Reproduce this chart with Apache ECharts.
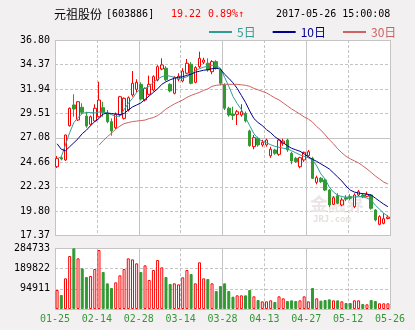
<!DOCTYPE html>
<html>
<head>
<meta charset="utf-8">
<script src="https://cdn.jsdelivr.net/npm/echarts@6.0.0/dist/echarts.min.js"></script>
<style>
html,body{margin:0;padding:0;background:#f2f0f1;}
#wrap{position:relative;width:415px;height:330px;background:#f2f0f1;}
#chart{position:absolute;left:0;top:0;width:415px;height:330px;z-index:1;}
.panel{position:absolute;background:#ffffff;z-index:0;}
</style>
</head>
<body>
<div id="wrap"><div id="chart"></div></div>
<script>
// Daily K-line of 元祖股份 (603886), 2017-01-25 .. 2017-05-26
const dates = [
  '01-25','01-26',
  '02-03','02-06','02-07','02-08','02-09','02-10','02-13','02-14','02-15','02-16','02-17',
  '02-20','02-21','02-22','02-23','02-24','02-27','02-28',
  '03-01','03-02','03-03','03-06','03-07','03-08','03-09','03-10','03-13','03-14','03-15',
  '03-16','03-17','03-20','03-21','03-22','03-23','03-24','03-27','03-28','03-29','03-30','03-31',
  '04-05','04-06','04-07','04-10','04-11','04-12','04-13','04-14','04-17','04-18','04-19',
  '04-20','04-21','04-24','04-25','04-26','04-27','04-28',
  '05-02','05-03','05-04','05-05','05-08','05-09','05-10','05-11','05-12','05-15','05-16',
  '05-17','05-18','05-19','05-22','05-23','05-24','05-25','05-26'
];

const opens = [
  24.22, 25.10, 24.89, 28.29, 30.35, 28.86, 30.12, 29.25, 28.43, 28.76,
  29.18, 30.08, 29.52, 28.69, 28.09, 29.35, 29.02, 29.85, 31.34, 31.90,
  32.40, 30.84, 31.41, 31.84, 32.83, 33.92, 34.00, 32.40, 31.51, 32.90,
  32.73, 33.50, 34.39, 32.60, 34.15, 34.59, 34.49, 33.65, 34.65, 33.82,
  32.33, 30.02, 29.45, 29.42, 29.35, 29.52, 27.77, 26.21, 27.04, 26.38,
  26.38, 25.30, 25.88, 25.45, 26.54, 26.87, 25.55, 25.05, 24.22, 24.89,
  25.31, 25.05, 22.67, 23.07, 22.90, 21.90, 20.49, 21.34, 20.42, 21.14,
  21.24, 20.25, 21.41, 21.41, 21.28, 21.41, 19.92, 18.50, 18.60, 19.08
];
const closes = [
  25.05, 24.98, 27.37, 30.02, 29.95, 30.67, 29.62, 28.26, 29.18, 30.02,
  30.84, 29.62, 28.69, 27.77, 29.42, 31.17, 31.01, 31.07, 32.50, 32.60,
  30.94, 31.98, 32.40, 33.16, 34.15, 34.32, 32.85, 31.74, 33.10, 33.20,
  33.72, 34.49, 32.50, 34.06, 34.98, 34.81, 33.82, 34.65, 33.99, 32.50,
  30.02, 29.35, 29.30, 29.68, 29.68, 28.76, 26.31, 27.10, 26.38, 26.64,
  26.87, 25.95, 25.55, 26.87, 26.77, 25.88, 24.79, 24.72, 25.12, 25.65,
  25.71, 23.07, 23.13, 22.73, 21.90, 20.42, 21.14, 20.59, 20.91, 21.00,
  21.08, 21.41, 21.74, 21.21, 21.48, 20.09, 18.93, 19.26, 19.05, 19.22
];
const lows = [
  24.09, 24.85, 24.80, 28.20, 29.18, 28.76, 29.42, 28.09, 28.30, 28.69,
  29.10, 29.18, 28.53, 27.30, 27.95, 29.20, 28.90, 29.70, 31.17, 31.60,
  30.80, 30.70, 31.30, 31.70, 32.70, 33.80, 32.70, 31.60, 31.40, 32.70,
  32.60, 33.40, 32.40, 32.50, 34.00, 34.40, 33.65, 33.40, 33.85, 32.30,
  29.85, 29.18, 28.86, 28.36, 29.18, 28.60, 26.20, 25.95, 26.20, 26.20,
  26.20, 25.10, 25.40, 25.30, 26.30, 25.70, 24.46, 24.60, 24.06, 24.70,
  25.20, 23.00, 22.47, 22.60, 21.80, 20.20, 20.40, 20.50, 20.30, 20.80,
  20.90, 20.10, 21.30, 21.10, 21.20, 19.95, 18.80, 18.40, 18.50, 19.00
];
const highs = [
  25.28, 25.25, 27.40, 30.10, 31.41, 30.74, 30.52, 29.68, 29.30, 30.42,
  32.66, 30.67, 29.85, 29.02, 29.60, 31.25, 31.10, 31.20, 33.72, 32.90,
  32.60, 32.10, 33.26, 33.30, 34.30, 34.98, 34.20, 32.50, 33.20, 33.50,
  34.00, 34.92, 34.60, 34.20, 35.64, 35.04, 34.98, 34.80, 34.80, 34.00,
  32.50, 30.18, 30.18, 29.85, 30.42, 29.70, 27.90, 27.37, 27.20, 26.90,
  27.00, 26.20, 26.00, 27.00, 27.00, 27.00, 25.70, 25.20, 25.20, 25.71,
  25.88, 25.20, 23.33, 23.20, 23.00, 22.00, 21.30, 21.58, 21.14, 21.40,
  21.50, 21.58, 21.90, 21.60, 21.75, 21.50, 20.00, 19.40, 19.60, 19.40
];

const volumes = [
  89100, 65700, 143800, 248600, 284700, 237600, 190700, 150100, 154800, 187600,
  276700, 173500, 120400, 98500, 125100, 158000, 187600, 237600, 233000, 214200,
  173500, 204800, 136000, 182900, 229800, 195400, 150100, 117300, 120400, 115700,
  148500, 182900, 164200, 120400, 219000, 143800, 140700, 120400, 84400, 107900,
  120400, 84400, 57800, 64100, 64100, 64100, 89100, 59400, 42200, 35900,
  35900, 40600, 32800, 59400, 50000, 37500, 40600, 37500, 40600, 59400,
  35900, 98500, 50000, 39100, 42200, 45300, 40600, 40600, 35900, 28100,
  28100, 40600, 40600, 23500, 21900, 42200, 37500, 26600, 26600, 26600
];

const ma5 = [
  25.00, 25.20, 26.40, 27.60, 28.60, 29.10, 29.50, 29.60, 29.60, 29.55,
  29.65, 29.65, 29.55, 29.40, 29.20, 29.25, 29.90, 30.50, 31.00, 31.60,
  31.95, 32.00, 32.20, 32.60, 32.90, 33.15, 33.30, 33.20, 33.10, 33.00,
  33.00, 33.15, 33.40, 33.75, 33.95, 34.10, 34.20, 34.30, 34.25, 34.00,
  33.10, 32.20, 31.20, 30.50, 29.90, 29.10, 28.30, 27.50, 27.00, 26.75,
  26.60, 26.40, 26.25, 26.15, 26.05, 26.00, 25.80, 25.60, 25.40, 25.25,
  25.10, 24.90, 24.30, 23.50, 23.00, 22.20, 21.70, 21.40, 21.25, 21.20,
  21.20, 21.20, 21.25, 21.25, 21.10, 20.90, 20.40, 20.00, 19.60, 19.30
];
const ma10 = [
  26.50, 25.95, 25.80, 26.20, 26.60, 27.00, 27.50, 27.85, 28.30, 28.70,
  29.00, 29.45, 29.55, 29.50, 29.45, 29.40, 29.50, 29.85, 30.15, 30.35,
  30.55, 30.90, 31.25, 31.60, 31.95, 32.40, 32.65, 32.85, 33.00, 33.10,
  33.15, 33.30, 33.40, 33.60, 33.70, 33.80, 33.85, 33.95, 34.00, 33.90,
  33.40, 33.00, 32.55, 32.00, 31.30, 30.60, 29.75, 29.00, 28.60, 28.30,
  27.90, 27.60, 27.20, 26.90, 26.60, 26.30, 26.05, 25.90, 25.75, 25.50,
  25.20, 24.95, 24.75, 24.50, 24.25, 24.00, 23.60, 23.20, 22.80, 22.30,
  21.90, 21.70, 21.60, 21.55, 21.50, 21.40, 21.10, 20.80, 20.50, 20.25
];
const ma30 = [
  null, null, null, null, null, null, null, null, null, null,
  26.35, 26.80, 27.20, 27.55, 27.95, 28.25, 28.50, 28.60, 28.70, 28.75,
  28.80, 28.85, 29.00, 29.10, 29.30, 29.60, 29.95, 30.20, 30.45, 30.65,
  30.85, 31.10, 31.30, 31.45, 31.60, 31.80, 31.95, 32.20, 32.30, 32.35,
  32.40, 32.40, 32.40, 32.40, 32.35, 32.30, 32.20, 32.00, 31.85, 31.70,
  31.55, 31.30, 31.05, 30.85, 30.55, 30.25, 29.95, 29.70, 29.45, 29.15,
  28.95, 28.65, 28.20, 27.85, 27.40, 26.90, 26.50, 26.00, 25.60, 25.25,
  25.00, 24.80, 24.60, 24.30, 24.00, 23.65, 23.30, 23.00, 22.70, 22.50
];

// Axis tick labels
const priceTicks = ['17.37','19.80','22.23','24.66','27.08','29.51','31.94','34.37','36.80'];
const volumeTicks = ['', '94911', '189822', '284733'];
const dateTicks = ['01-25','02-14','02-28','03-14','03-28','04-13','04-27','05-12','05-26'];

const UP = '#ff0000';
const DOWN = '#339933';
const LINE = '#c4c4c4';
const MONO = "'DejaVu Sans Mono', monospace";
const CJK = "'Noto Sans CJK SC', sans-serif";
const MA_COLORS = ['#2f9c96', '#00008b', '#cd6262'];

// Plot rectangles: price panel and volume panel
const PLOTS = [
  { left: 55, top: 40, width: 335, height: 195.7 },
  { left: 55, top: 248.3, width: 335, height: 60.7 }
];

// White panels sit underneath the transparent chart canvas
const wrap = document.getElementById('wrap');
PLOTS.forEach(p => {
  const d = document.createElement('div');
  d.className = 'panel';
  d.style.left = p.left + 'px';
  d.style.top = p.top + 'px';
  d.style.width = p.width + 'px';
  d.style.height = p.height + 'px';
  wrap.insertBefore(d, wrap.firstChild);
});

// Fresh option objects for every axis
const off = () => ({ show: false });
const guide = type => ({ show: true, lineStyle: { color: LINE, width: 1, type } });
const labelStyle = (formatter, color) => ({
  show: true, formatter, color, fontFamily: MONO, fontSize: 10, margin: 5
});
const dash = () => [3, 2];

// Division axes: evenly spaced guide lines over a plot, with optional labels
function divisionAxis(gridIndex, count, step, lineType, position, label) {
  return {
    type: 'value', gridIndex, min: 0, max: count, interval: step, position,
    axisLine: off(), axisTick: off(),
    axisLabel: label || off(),
    splitLine: guide(lineType)
  };
}

function textItem(x, text, font, fill) {
  return { type: 'text', x, y: 14.5, style: { text, font, fill, verticalAlign: 'middle' } };
}

const chart = echarts.init(document.getElementById('chart'), null, { renderer: 'canvas' });

const candleData = dates.map((d, i) => [opens[i], closes[i], lows[i], highs[i]]);
const volumeData = volumes.map((v, i) => ({
  value: v,
  itemStyle: closes[i] >= opens[i]
    ? { color: '#ffffff', borderColor: UP, borderWidth: 1 }
    : { color: DOWN, borderColor: DOWN, borderWidth: 1 }
}));

const volStep = Number(volumeTicks[1]);
const volTop = Number(volumeTicks[volumeTicks.length - 1]);

chart.setOption({
  animation: false,
  backgroundColor: 'transparent',
  grid: PLOTS.map(p => ({ left: p.left, top: p.top, width: p.width, height: p.height, show: false })),
  legend: {
    left: 209, top: 26, padding: 0,
    icon: 'rect', itemWidth: 23, itemHeight: 2, itemGap: 17,
    textStyle: { fontFamily: CJK, fontSize: 12 },
    data: [
      { name: '5日', textStyle: { color: MA_COLORS[0] } },
      { name: '10日', textStyle: { color: MA_COLORS[1] } },
      { name: '30日', textStyle: { color: MA_COLORS[2] } }
    ]
  },
  xAxis: [
    { type: 'category', gridIndex: 0, data: dates, boundaryGap: true, show: false },
    divisionAxis(0, dateTicks.length - 1, 1, dash(), 'bottom'),
    divisionAxis(0, dateTicks.length - 1, 2, 'solid', 'top'),
    { type: 'category', gridIndex: 1, data: dates, boundaryGap: true, show: false },
    divisionAxis(1, dateTicks.length - 1, 1, dash(), 'bottom', labelStyle(v => dateTicks[v], DOWN)),
    divisionAxis(1, dateTicks.length - 1, 2, 'solid', 'top')
  ],
  yAxis: [
    { type: 'value', gridIndex: 0, min: Number(priceTicks[0]), max: Number(priceTicks[priceTicks.length - 1]), show: false },
    divisionAxis(0, priceTicks.length - 1, 1, dash(), 'left', labelStyle(v => priceTicks[v], '#000000')),
    divisionAxis(0, priceTicks.length - 1, 4, 'solid', 'right'),
    {
      type: 'value', gridIndex: 1, min: 0, max: volTop, interval: volStep, position: 'left',
      axisLine: off(), axisTick: off(),
      axisLabel: labelStyle(v => volumeTicks[Math.round(v / volStep)], '#000000'),
      splitLine: guide(dash())
    },
    divisionAxis(1, 1, 1, 'solid', 'right')
  ],
  graphic: [
    { type: 'text', x: 310, y: 204, z: 1, style: { text: '金融界', font: `bold 18px ${CJK}`, fill: '#ebe5e5', verticalAlign: 'middle' } },
    { type: 'text', x: 313, y: 220, z: 1, style: { text: 'JRJ.com', font: `bold 9px ${MONO}`, fill: '#e6e0e0', verticalAlign: 'middle' } },
    textItem(54, '元祖股份', `12px ${CJK}`, '#000000'),
    textItem(106, '[603886]', `10px ${MONO}`, '#000000'),
    textItem(171, '19.22', `10px ${MONO}`, UP),
    textItem(208, '0.89%↑', `10px ${MONO}`, UP),
    textItem(276, '2017-05-26 15:00:08', `10px ${MONO}`, '#000000')
  ],
  series: [
    {
      type: 'candlestick', name: '日K', xAxisIndex: 0, yAxisIndex: 0, z: 3,
      data: candleData, barWidth: 3,
      itemStyle: { color: '#ffffff', color0: DOWN, borderColor: UP, borderColor0: DOWN, borderWidth: 1 }
    },
    { type: 'line', name: '5日', xAxisIndex: 0, yAxisIndex: 0, data: ma5, symbol: 'none', z: 4,
      itemStyle: { color: MA_COLORS[0] }, lineStyle: { color: MA_COLORS[0], width: 1 } },
    { type: 'line', name: '10日', xAxisIndex: 0, yAxisIndex: 0, data: ma10, symbol: 'none', z: 4,
      itemStyle: { color: MA_COLORS[1] }, lineStyle: { color: MA_COLORS[1], width: 1 } },
    { type: 'line', name: '30日', xAxisIndex: 0, yAxisIndex: 0, data: ma30, symbol: 'none', z: 4,
      itemStyle: { color: MA_COLORS[2] }, lineStyle: { color: MA_COLORS[2], width: 1 } },
    { type: 'bar', name: '成交量', xAxisIndex: 3, yAxisIndex: 3, data: volumeData, barWidth: 3, z: 3 }
  ]
});
</script>
</body>
</html>
